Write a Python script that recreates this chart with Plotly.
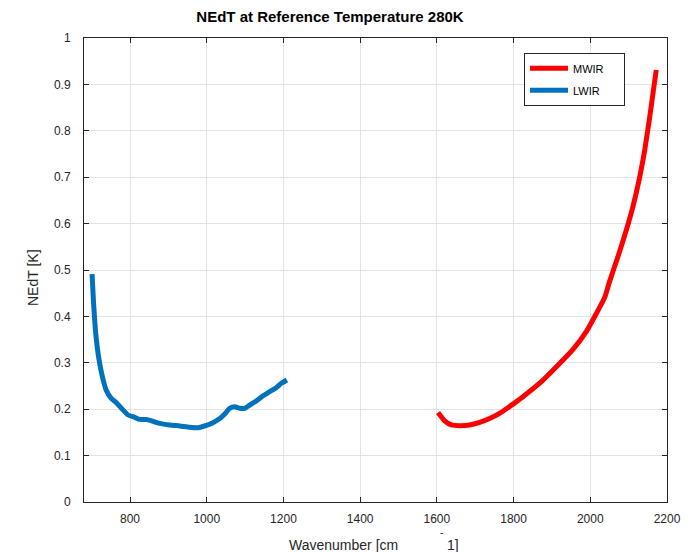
import plotly.graph_objects as go

# LWIR band: wavenumber [cm^-1] and NEdT [K]
lwir_wn = [701, 705, 710.5, 718, 728, 738, 751, 764.5, 777.5, 795, 812, 825, 843, 856,
           877, 903.5, 929.5, 955.5, 977, 999, 1016, 1034, 1047, 1060, 1073, 1086, 1099,
           1112, 1129.5, 1147, 1164, 1182, 1194.5, 1209]
lwir_nedt = [0.491, 0.428, 0.364, 0.313, 0.270, 0.241, 0.2235, 0.214, 0.202, 0.1875,
             0.1825, 0.178, 0.178, 0.175, 0.1695, 0.166, 0.1638, 0.161, 0.160, 0.165,
             0.171, 0.180, 0.1897, 0.202, 0.2055, 0.202, 0.202, 0.209, 0.218, 0.229,
             0.2377, 0.247, 0.2558, 0.263]

# MWIR band
mwir_wn = [1603, 1620.5, 1638, 1659.5, 1685.5, 1711.5, 1737.5, 1763.5, 1798.5, 1824.6,
           1868, 1911.7, 1955, 1990, 2016, 2037.6, 2050.6, 2072, 2094, 2111, 2129, 2142,
           2155, 2163.5, 2172]
mwir_nedt = [0.193, 0.175, 0.166, 0.1645, 0.166, 0.1717, 0.180, 0.191, 0.211, 0.227,
             0.256, 0.2916, 0.329, 0.3677, 0.4066, 0.441, 0.476, 0.5287, 0.586, 0.636,
             0.701, 0.7586, 0.830, 0.881, 0.931]

x_ticks = [800, 1000, 1200, 1400, 1600, 1800, 2000, 2200]
y_ticks = [0, 0.1, 0.2, 0.3, 0.4, 0.5, 0.6, 0.7, 0.8, 0.9, 1]
y_labels = ["0", "0.1", "0.2", "0.3", "0.4", "0.5", "0.6", "0.7", "0.8", "0.9", "1"]

FONT = "Liberation Sans, Arial, Helvetica, sans-serif"
INK = "#262626"
PAD = "\u00a0" * 5

# plot-area geometry in pixels, used to place the free-standing labels
PLOT_L, PLOT_W = 84.3, 583.0


def px_to_paper(x_px):
    return (x_px - PLOT_L) / PLOT_W


fig = go.Figure()
fig.add_trace(go.Scatter(x=mwir_wn, y=mwir_nedt, mode="lines", name="MWIR" + PAD,
                         legendgroup="a",
                         line=dict(color="#FF0000", width=5, shape="spline", smoothing=0.5)))
fig.add_trace(go.Scatter(x=lwir_wn, y=lwir_nedt, mode="lines", name="LWIR" + PAD,
                         legendgroup="b",
                         line=dict(color="#0072BD", width=5, shape="spline", smoothing=0.5)))

axis_common = dict(
    showline=True, linecolor=INK, linewidth=1, mirror="ticks",
    ticks="inside", ticklen=5, tickcolor=INK, tickwidth=1,
    showgrid=True, gridcolor="#E3E3E3", gridwidth=1, zeroline=False,
    tickfont=dict(family=FONT, size=12, color=INK),
)

fig.update_layout(
    width=692, height=552,
    margin=dict(l=84, r=25, t=38, b=50),
    paper_bgcolor="white", plot_bgcolor="white",
    font=dict(family=FONT, color=INK),
    title=dict(text="<b>NEdT at Reference Temperature 280K</b>",
               font=dict(family=FONT, size=15, color="black"),
               x=330 / 692, xanchor="center", xref="container",
               y=1 - 17 / 552, yanchor="middle", yref="container"),
    xaxis=dict(range=[680, 2200], tickvals=x_ticks, ticklabelstandoff=6, **axis_common),
    yaxis=dict(range=[0, 1], tickvals=y_ticks, ticktext=y_labels, ticklabelstandoff=10,
               **axis_common),
    legend=dict(x=0.7547, y=0.968, xanchor="left", yanchor="top",
                bgcolor="white", bordercolor=INK, borderwidth=1,
                font=dict(family=FONT, size=11, color="black"),
                itemwidth=38,
                traceorder="grouped", tracegroupgap=3),
    showlegend=True,
)

# x-axis title, with its exponent set apart as in the original figure export
fig.add_annotation(text="Wavenumber [cm", xref="paper", yref="paper",
                   x=px_to_paper(400), y=0, xanchor="right", yanchor="middle",
                   yshift=-43, showarrow=False, font=dict(family=FONT, size=14, color=INK))
fig.add_annotation(text="1]", xref="paper", yref="paper",
                   x=px_to_paper(445), y=0, xanchor="left", yanchor="middle",
                   yshift=-43, showarrow=False, font=dict(family=FONT, size=14, color=INK))
fig.add_annotation(text="-", xref="paper", yref="paper", x=px_to_paper(441.5), y=0,
                   xanchor="center", yanchor="middle", yshift=-30, showarrow=False,
                   font=dict(family=FONT, size=10, color=INK))
fig.add_annotation(text="NEdT [K]", xref="paper", yref="paper", x=0, y=(502 - 278) / 464,
                   xanchor="center", yanchor="middle", xshift=-51, textangle=-90,
                   showarrow=False, font=dict(family=FONT, size=14, color=INK))

fig.write_html("out.html")
